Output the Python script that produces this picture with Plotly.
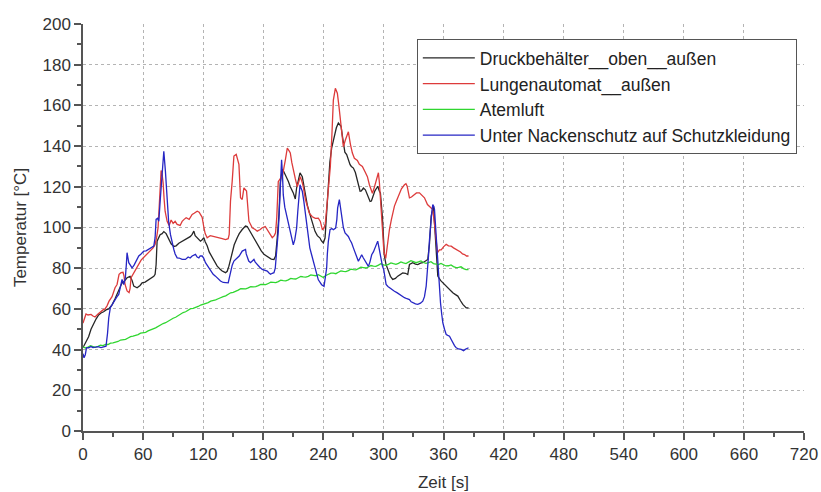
import plotly.graph_objects as go

# Druckbehälter oben außen
black_t = [0, 3, 5.6, 8, 10.6, 13, 15.6, 18, 20.6, 23, 25.7, 29, 32, 34, 37, 39, 41, 44, 47, 49,
           50.7, 54, 57, 59, 62, 65.7, 68, 70.7, 72, 73, 74, 77, 79, 80.7, 83, 85.7, 88, 90.7, 93, 95.7,
           98, 100.7, 104, 107, 109, 110.7, 112, 114, 117.3, 119, 120.7, 122, 124, 126, 129, 132, 134, 137, 139, 142.3,
           144, 145.7, 147, 149, 151, 154, 156, 159, 162.3, 164, 165.7, 168, 170.7, 173, 175.7, 178, 180.7, 183, 185.7, 188,
           190.7, 192.3, 194, 195.7, 197, 199, 200, 202, 205, 207, 210, 212, 213.3, 215, 216.7, 219, 220, 221.7, 224, 226.7,
           229, 231.7, 234, 236.7, 238, 240, 241.7, 243, 245, 246.5, 248.3, 250, 251.7, 253, 255, 257.7, 259, 260, 261.5, 263.3,
           265, 266.7, 268, 270, 272, 273.3, 275, 276.7, 278, 280, 282, 283.3, 285, 286.7, 288, 290, 291.5, 293.3, 294.3, 296,
           297, 299, 301, 302.5, 304.3, 307, 309.3, 312, 314.3, 317, 319.3, 322, 324.3, 326, 329.3, 332, 334.3, 337, 339.3, 342,
           344.3, 346, 347.7, 350, 351.7, 353, 354.3, 357, 359.3, 362, 364.3, 367, 369.3, 372, 374.3, 377, 379.3, 382.7, 385]
black_temp = [41, 43.5, 46.3, 50, 52.9, 55, 57, 58, 58.6, 59.5, 60, 62, 65, 67, 70, 72.8, 73.5, 75.3, 76, 74,
              71.2, 70.4, 71.5, 72.8, 73.2, 74.5, 75, 76, 77, 81.7, 93.3, 96.5, 97, 98, 97, 94, 92, 90.7, 91, 92.3,
              93, 94, 95, 95.5, 96.6, 98.2, 96, 95, 93.3, 94, 95, 93, 91, 88, 85.1, 82.5, 81, 79.5, 78.6, 77.8,
              78.5, 81, 84, 88.4, 91.5, 95, 97, 99, 100.7, 100.5, 99, 97, 95, 93, 90.9, 88.5, 86.8, 86, 85.1, 84.5,
              84.3, 86, 95, 106.4, 122, 128.5, 128, 126, 122.7, 120, 117, 114, 119.4, 123, 126.8, 125, 122, 116, 111, 106.3,
              102, 98.1, 96, 94.8, 93.5, 92.4, 94.8, 105, 124.3, 132, 139, 143, 146.4, 149, 151.3, 149.7, 145, 140.7, 137, 135.8,
              133, 130.9, 130, 129.2, 127, 124.3, 121, 117.8, 118, 119.4, 118.5, 117, 115, 112.8, 113, 116, 118, 119.4, 120.3, 117.8,
              117, 105, 86, 82, 79.4, 76, 74.5, 75, 76.1, 77, 77.7, 77.5, 76.9, 81.8, 82.7, 82, 81.8, 82.5, 82.7, 83.5,
              84.3, 92, 105.6, 110.5, 98.9, 86, 76.1, 74, 72.8, 71.5, 70.4, 69, 67.9, 67, 66.3, 64, 62.2, 60.5, 60.5]

# Lungenautomat außen
red_t = [0, 1.5, 3, 5, 8, 10, 12, 15, 18, 20, 22, 24, 26, 29, 32, 34, 36, 38, 40, 41,
         42, 44, 46, 47, 48, 50, 52, 54, 56, 58, 60, 62, 64, 66, 68, 70, 72, 73.5, 75, 76.5,
         78, 79, 80, 81, 82, 84, 86, 88, 90, 92, 94, 97, 99, 101, 103, 106, 109, 111, 114, 116,
         117.3, 119, 120.7, 122, 124, 127, 129, 132, 135.7, 139, 142.3, 145, 146, 147.3, 149, 150.7, 153, 155.7, 157.3, 159,
         160.7, 163.3, 165.7, 169, 172, 174, 177, 179, 182, 184, 187, 189, 191, 192.3, 193.5, 195, 197, 199, 202, 204,
         206, 207, 208.5, 210, 212, 214, 216, 217, 219, 220, 222, 224, 226, 229, 232, 235, 237, 239, 240.5, 242,
         243.5, 245, 247, 248.5, 250, 252, 254, 255.5, 257, 258.5, 260, 262, 264, 265, 267, 269, 271, 274, 276, 279,
         282, 284, 286, 289, 290.5, 292, 294, 295, 296, 297.7, 299, 300.5, 302.3, 304, 306, 308, 311, 313, 316, 318,
         321, 322.5, 323.7, 326, 328, 331, 333, 336, 338, 341, 344, 347.7, 349, 350.5, 352, 354, 356, 357.7, 360, 362.7,
         365, 367.7, 370, 372, 374, 377, 379, 381, 383, 385]
red_temp = [53, 55, 57.5, 57, 57.3, 56.5, 56, 57.5, 58.9, 59.5, 60, 61.5, 63.8, 66, 70.4, 72, 77, 77.8, 78, 76,
            72, 68.8, 68, 70, 75.3, 77, 79.4, 81, 82.7, 84, 85, 86, 87, 88, 89.2, 90, 91.7, 95, 100, 115,
            128, 126, 122, 114, 108, 103, 101, 103.7, 102, 103, 101.5, 101, 103, 104, 104.8, 104, 106.4, 107, 108, 107.5,
            106.4, 105, 100, 97, 95, 96, 95.8, 95.3, 95, 94.5, 94.1, 94.5, 96.6, 113, 122.8, 135.1, 135.9, 131, 114.6, 113.8,
            119.5, 117.9, 103.1, 99.9, 99, 98.2, 99, 99.9, 100.5, 99, 97, 95, 96, 97.4, 105, 122.5, 124, 125, 133, 139,
            137.5, 136.6, 132, 128, 124, 120, 123, 125, 122, 120, 114, 110, 107, 105.3, 104.5, 104.6, 103, 99, 99.5, 102,
            110, 117, 130, 145, 162.6, 168.4, 166, 160, 152.8, 145, 139.7, 143, 146, 147, 141, 136.6, 134, 133, 131, 130,
            127, 125, 121, 116.8, 119, 122, 125.8, 126.9, 122, 107, 98, 88, 84.8, 92, 99, 104, 110.5, 113, 117, 119,
            121, 121.5, 120.3, 114.6, 115, 116.2, 117, 117, 116, 114.6, 111.3, 109.7, 108.9, 104, 96, 87.6, 89, 89, 90.5, 91.7,
            91, 90.8, 90, 89.5, 89, 88, 87, 86.7, 86, 86]

# Atemluft, one reading every 2.5 s
green_temp = [41.4, 40.8, 41.2, 41.9, 41.5, 41.1, 41.6, 42.2, 42.0, 42.6, 42.5, 43.2, 43.3, 43.6, 44.0, 44.7,
              44.8, 45.0, 45.7, 46.4, 46.6, 46.9, 47.4, 48.1, 48.2, 48.5, 49.2, 49.9, 50.2, 50.7, 51.5, 52.3,
              52.8, 53.2, 54.0, 54.9, 55.4, 55.9, 56.8, 57.7, 58.2, 58.6, 59.3, 60.1, 60.3, 60.6, 61.2, 61.9,
              62.2, 62.5, 63.1, 63.8, 64.0, 64.4, 65.0, 65.7, 66.0, 66.4, 67.1, 67.9, 68.1, 68.5, 69.2, 69.9,
              70.0, 69.8, 70.3, 70.9, 70.8, 70.9, 71.4, 72.0, 72.0, 71.9, 72.5, 73.1, 73.0, 72.9, 73.4, 74.1,
              73.9, 73.8, 74.3, 75.0, 74.8, 74.7, 75.3, 75.9, 75.7, 75.6, 76.0, 76.7, 76.5, 76.3, 76.8, 76.2,
              75.4, 76.4, 77.0, 77.6, 77.6, 77.3, 78.0, 78.7, 78.4, 78.3, 78.8, 79.5, 79.3, 79.2, 79.8, 80.5,
              80.3, 80.1, 80.6, 81.3, 81.0, 80.9, 81.5, 82.2, 81.6, 81.4, 81.9, 82.6, 82.2, 81.9, 82.4, 83.1,
              82.6, 82.3, 83.0, 83.7, 83.2, 82.7, 83.1, 83.6, 82.8, 82.4, 82.7, 83.2, 82.3, 81.9, 81.8, 82.3,
              81.6, 81.1, 81.2, 81.6, 80.8, 80.3, 80.4, 80.7, 79.8, 79.3, 79.3]
green_t = [i * 2.5 for i in range(len(green_temp))]

# Unter Nackenschutz auf Schutzkleidung
blue_t = [0, 1, 2.3, 3.5, 5.7, 8, 10, 12.3, 15, 18, 20.7, 23, 24.5, 25.7, 27.3, 30, 32.3, 34, 35.7, 37,
          39, 40.7, 42.3, 43.3, 44, 45.7, 47, 49, 51, 52.3, 54, 55.7, 58, 60.7, 63, 65.7, 68, 70.7, 72, 73,
          74.5, 75.7, 77.3, 79, 80.7, 82.3, 84, 85.5, 87.3, 89, 90.7, 92, 94, 96, 99, 102.3, 105, 107, 109, 112.3,
          114, 115.7, 117, 119, 120.5, 122.3, 125, 127.3, 130, 132.3, 135, 137.3, 140, 142.3, 145, 146, 147.3, 149, 150.7, 152,
          154, 156, 159, 162.3, 163, 164, 165.5, 167.3, 169, 170.7, 172, 174, 176.5, 179, 181.5, 184, 186, 187.3, 189, 190.7,
          192, 193, 194, 195, 196, 196.7, 197.6, 198.3, 199.2, 200, 201.5, 203.3, 205, 206.7, 208.5, 210, 211.5, 213.3, 214.5, 215.7,
          216.7, 218, 219, 220.5, 221.7, 223.5, 225, 226.5, 228.3, 230, 231.7, 233.5, 235, 236.7, 238.3, 240.7, 242, 243.3, 244, 245,
          246.7, 248.5, 250, 252.3, 253.5, 254.3, 256, 257, 258.3, 260, 261.7, 263.5, 265, 266.5, 268.3, 270, 271.7, 273.5, 275, 276.7,
          278.3, 280, 281.7, 283.5, 285, 286.5, 288.3, 290, 291.7, 293.3, 294.3, 296, 297.7, 299, 300.3, 301.5, 302.7, 304.5, 306, 308.5,
          311, 313.5, 316, 318.5, 321, 323.5, 326, 327.7, 329.3, 332, 334.3, 337, 339.3, 341, 342.7, 344, 345, 346, 347, 348.2,
          349.3, 350.2, 351, 352, 352.7, 354, 355, 356, 357, 358.2, 359.3, 361, 362.7, 364.3, 366, 367.7, 369.3, 371, 372.7, 375,
          377.7, 380, 381.7, 383.5, 385]
blue_temp = [38, 36, 37.5, 40.8, 40.9, 41.5, 41, 41.2, 41.5, 41, 41.2, 41.7, 48, 55.6, 60.6, 62.5, 64.7, 66, 67.1, 70,
             74.5, 72, 75.3, 82, 87.6, 82.7, 81.5, 80.2, 81.5, 82.7, 84.5, 86, 87, 88.4, 88.5, 89.2, 90, 90.9, 95, 104,
             104.5, 103.1, 114.6, 127.7, 137.5, 127.7, 111.3, 103, 96.6, 92, 89.2, 87, 85.1, 85, 84.3, 84.3, 85.5, 85, 86, 86.8,
             85.5, 85.1, 86, 86, 85, 82.7, 80.5, 78.6, 77, 76.1, 74.5, 73.7, 73, 72.8, 72.8, 75, 78.6, 81.5, 83.5, 84,
             85.1, 86, 88.4, 89.2, 87, 85.1, 83.5, 82.7, 83.5, 84.3, 83, 81.8, 80.5, 79.4, 79, 78.6, 77.5, 77, 77.5, 77.8,
             80, 85.1, 90, 98.2, 108, 117.9, 128, 133.3, 126, 116, 110, 106.3, 103, 99.7, 95, 91.5, 94, 99.7, 108, 116,
             121, 119, 117.8, 113, 108, 101, 94.8, 90, 86.6, 83, 80, 77, 74.3, 73, 71.9, 71.1, 75, 80, 87, 93.2,
             98.9, 99.5, 98.9, 99.7, 104, 109.6, 113.7, 110, 104.7, 100, 97.3, 96.5, 95.6, 94, 92.4, 90, 87.5, 85, 83.4, 85,
             86.6, 85, 83.4, 82, 80.9, 83, 86.6, 88, 89.9, 91.5, 93.3, 89, 84.3, 81, 79.4, 75, 72, 71, 70.4, 69.5,
             68.7, 68, 67.1, 66, 65.5, 65, 64.6, 63.5, 63, 62.5, 62.2, 62.8, 63.8, 66, 71.2, 78, 85.9, 94, 102.3, 107,
             111.3, 110.5, 108.9, 101, 94.1, 85, 76.1, 69, 63, 57.5, 53.2, 50, 47.4, 47, 46.6, 45, 43.3, 42, 40.9, 40.3,
             40.1, 39.5, 40.1, 40.5, 40.9]

series = [
    ("Druckbehälter__oben__außen", black_t, black_temp, "#262626"),
    ("Lungenautomat__außen", red_t, red_temp, "#dd3b3b"),
    ("Atemluft", green_t, green_temp, "#2fd62f"),
    ("Unter Nackenschutz auf Schutzkleidung", blue_t, blue_temp, "#2626c4"),
]

x_ticks = list(range(0, 721, 60))
y_ticks = list(range(0, 201, 20))

fig = go.Figure()
for name, t, temp, color in series:
    fig.add_trace(go.Scatter(x=t, y=temp, mode="lines", name=name,
                             line=dict(color=color, width=1.3)))

axis_style = dict(
    showline=True, linecolor="#555555", linewidth=1.5,
    ticks="outside", ticklen=7, tickwidth=1.5, tickcolor="#555555",
    showgrid=True, gridcolor="#b4b4b4", griddash="dot", gridwidth=1,
    zeroline=False, tickfont=dict(size=17, color="#333333"),
)

fig.update_xaxes(range=[0, 720], tickvals=x_ticks, **axis_style,
                 minor=dict(dtick=30, tick0=0, ticks="outside", ticklen=4,
                            tickcolor="#555555", showgrid=False),
                 title=dict(text="Zeit [s]", standoff=17,
                            font=dict(size=17, color="#333333")))
fig.update_yaxes(range=[0, 200], tickvals=y_ticks, **axis_style,
                 minor=dict(dtick=10, tick0=0, ticks="outside", ticklen=4,
                            tickcolor="#555555", showgrid=False),
                 title=dict(text="Temperatur [°C]", standoff=12,
                            font=dict(size=17, color="#333333")))

fig.update_layout(
    width=821, height=492,
    margin=dict(l=83, r=17, t=24, b=61, autoexpand=False),
    paper_bgcolor="white", plot_bgcolor="white",
    font=dict(family="Liberation Sans, Arial, sans-serif", size=17, color="#333333"),
    legend=dict(x=0.463, y=0.963, xanchor="left", yanchor="top",
                bgcolor="white", bordercolor="#555555", borderwidth=1,
                itemwidth=52, font=dict(size=17.5, color="#222222")),
)

fig.write_html("out.html")
